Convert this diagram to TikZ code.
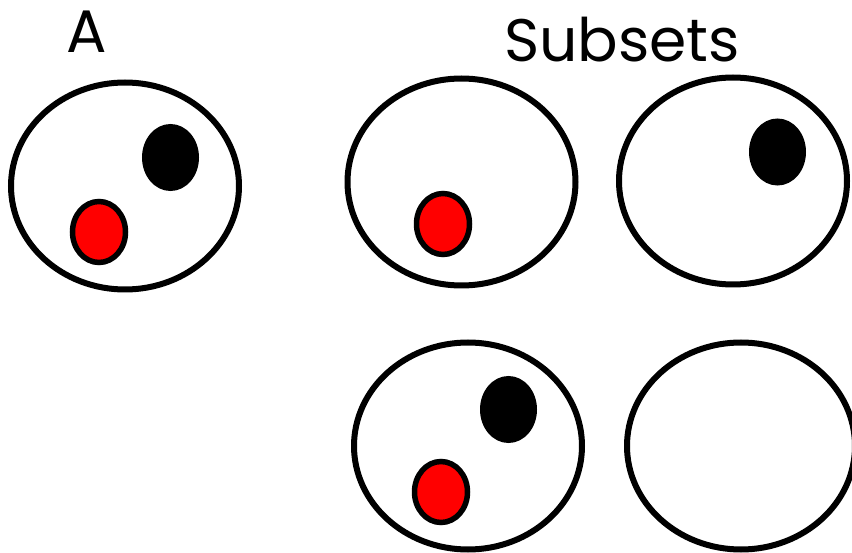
\documentclass[tikz,border=0pt]{standalone}
\usepackage{fontspec}
\setmainfont{Poppins}
\usetikzlibrary{shapes.geometric}
\tikzset{
  setbox/.style={ellipse, draw=black, line width=6pt, fill=white, inner sep=0pt, minimum width=228pt, minimum height=207pt},
  blackdot/.style={ellipse, draw=black, fill=black, line width=3pt, inner sep=0pt, minimum width=54pt, minimum height=64pt},
  reddot/.style={ellipse, draw=black, fill=red, line width=5.5pt, inner sep=0pt, minimum width=53pt, minimum height=61pt},
  title/.style={anchor=base, inner sep=0pt, font=\fontsize{60}{60}\selectfont}
}
\begin{document}
\begin{tikzpicture}[x=1pt, y=-1pt]
\useasboundingbox (0,0) rectangle (852,553);
\clip (0,0) rectangle (852,553);
\node[title] (ttlA) at (86.5,53) {A};
\node[title] (ttlS) at (622,62) {Subsets};
% set A
\node[setbox] (setA) at (125,186) {};
\node[blackdot] (aB) at (170.5,157.5) {};
\node[reddot] (aR) at (99,232) {};
% subset {red}
\node[setbox] (s1) at (461.5,182) {};
\node[reddot] (s1R) at (443,224) {};
% subset {black}
\node[setbox] (s2) at (733,181) {};
\node[blackdot] (s2B) at (777.5,152) {};
% subset {red, black}
\node[setbox] (s3) at (468,446) {};
\node[blackdot] (s3B) at (508.5,409.5) {};
\node[reddot] (s3R) at (441,492) {};
% empty subset
\node[setbox] (s4) at (741,446) {};
\end{tikzpicture}
\end{document}
